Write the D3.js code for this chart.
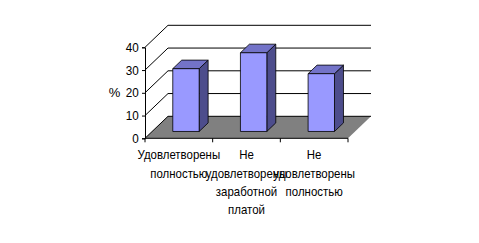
<!DOCTYPE html>
<html lang="ru">
<head>
<meta charset="UTF-8">
<title>Удовлетворенность</title>
<style>
  body { margin: 0; background: #fff; }
  text { font-family: "Liberation Sans", Arial, sans-serif; font-size: 13px; fill: #000; }
</style>
</head>
<body>
<svg id="chart" width="479" height="243"></svg>
<script src="https://d3js.org/d3.v7.min.js"></script>
<script>
// data
var categories = ["Удовлетворены полностью", "Не удовлетворены заработной платой", "Не удовлетворены полностью"];
var labelLines = [["Удовлетворены", "полностью"], ["Не", "удовлетворены", "заработной", "платой"], ["Не", "удовлетворены", "полностью"]];
var values = [27.6, 34.6, 25.4];
var yTicks = [0, 10, 20, 30, 40];
var yTitle = "%";

var svg = d3.select("#chart");

var x = d3.scaleBand().domain(categories).range([145, 348]);
var y = d3.scaleLinear().domain([0, 40]).range([138.3, 47.3]);

// depth of the 3d box
var depthX = 23, depthY = -22;
var barFront = 0.31, barBack = 0.70;
var barW = x.bandwidth() * 0.39;

function pt(px, py, f) { return [px + depthX * f, py + depthY * f]; }

// floor
var floor = [pt(x.range()[0], y(0), 0), pt(x.range()[1], y(0), 0), pt(x.range()[1], y(0), 1), pt(x.range()[0], y(0), 1)];
svg.append("polygon")
   .attr("points", floor.map(function(p) { return p.join(","); }).join(" "))
   .attr("fill", "#808080");

// back wall gridlines + side wall diagonals
yTicks.forEach(function(t) {
    var a = pt(x.range()[0], y(t), 0), b = pt(x.range()[0], y(t), 1), c = pt(x.range()[1], y(t), 1);
    svg.append("polyline")
       .attr("points", [a, b, c].map(function(p) { return p.join(","); }).join(" "))
       .attr("fill", "none")
       .attr("stroke", "#000")
       .attr("stroke-width", 1);
});

// bars
values.forEach(function(v, i) {
    var cx = x(categories[i]) + x.bandwidth() / 2;
    var x0 = cx - barW / 2, x1 = cx + barW / 2;
    var fb = [pt(x0, y(0), barFront), pt(x1, y(0), barFront), pt(x1, y(v), barFront), pt(x0, y(v), barFront)];
    var topFace = [pt(x0, y(v), barFront), pt(x1, y(v), barFront), pt(x1, y(v), barBack), pt(x0, y(v), barBack)];
    var side = [pt(x1, y(0), barFront), pt(x1, y(0), barBack), pt(x1, y(v), barBack), pt(x1, y(v), barFront)];
    [[side, "#4d4d8c"], [topFace, "#7373c8"], [fb, "#9999ff"]].forEach(function(f) {
        svg.append("polygon")
           .attr("points", f[0].map(function(p) { return p.join(","); }).join(" "))
           .attr("fill", f[1])
           .attr("stroke", "#000")
           .attr("stroke-width", 0.8)
           .attr("stroke-linejoin", "round");
    });
});

// value axis
var yAxis = svg.append("g")
   .attr("transform", "translate(" + x.range()[0] + ",0)")
   .call(d3.axisLeft(y).tickValues(yTicks).tickSize(3).tickPadding(3));
yAxis.select(".domain").attr("stroke", "#000");
yAxis.selectAll("text")
   .style("font-size", "13px")
   .attr("transform", "scale(0.9,1)")
   .attr("x", -7);

svg.append("text")
   .attr("x", 114.5).attr("y", 97)
   .attr("text-anchor", "middle")
   .text(yTitle);

// category axis line with ticks at boundaries
var bottom = y(0);
svg.append("line")
   .attr("x1", x.range()[0]).attr("x2", x.range()[1])
   .attr("y1", bottom).attr("y2", bottom)
   .attr("stroke", "#000");
categories.concat([null]).forEach(function(c, i) {
    var bx = x.range()[0] + i * x.step();
    svg.append("line")
       .attr("x1", bx).attr("x2", bx)
       .attr("y1", bottom).attr("y2", bottom + 4)
       .attr("stroke", "#000");
});

// category labels
labelLines.forEach(function(lines, i) {
    var cx = x(categories[i]) + x.bandwidth() / 2;
    var g = svg.append("g").attr("transform", "translate(" + cx + ",0) scale(0.88,1)");
    lines.forEach(function(l, j) {
        g.append("text")
         .attr("x", 0)
         .attr("y", 159.3 + j * 18.3)
         .attr("text-anchor", "middle")
         .text(l);
    });
});
</script>
</body>
</html>
